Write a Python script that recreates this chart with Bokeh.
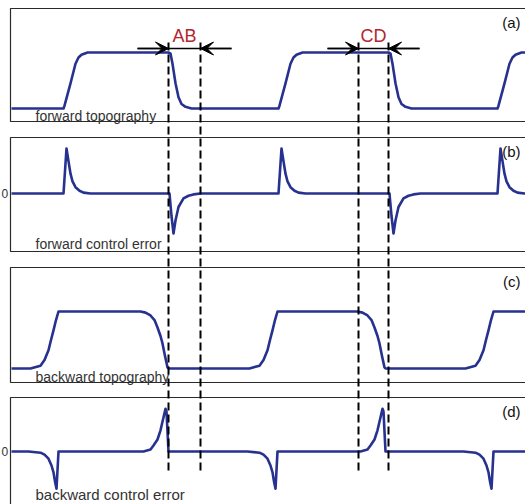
from bokeh.plotting import figure
from bokeh.models import Range1d, Arrow, VeeHead
from bokeh.core.properties import value
from bokeh.embed import file_html
from bokeh.resources import INLINE

# Scan positions of the sample edges (x, arbitrary position units)
FWD_RISE_AT = [63, 278, 497]
FWD_FALL_AT = [168, 388]
BWD_RISE_AT = [58, 277, 493]
BWD_FALL_AT = [168, 385]

# Marker positions A, B, C, D
MARK_NAMES = ["A", "B", "C", "D"]
MARK_X = [168, 200, 358, 388]

# Forward topography: step response at a rising / falling edge (offset, height)
FWD_RISE_DX = [0, 1, 7, 12, 15, 18, 24]
FWD_RISE_V = [0, 0.05, 0.45, 0.80, 0.91, 0.96, 1.0]
FWD_FALL_DX = [0, 2, 4, 7, 10, 13, 17, 23]
FWD_FALL_V = [1.0, 0.98, 0.80, 0.45, 0.20, 0.08, 0.03, 0]

# Forward control error spikes (offset, error)
FWD_ERR_POS_DX = [0, 3, 5, 7, 9, 12, 16, 20, 27]
FWD_ERR_POS_V = [0, 1.0, 0.72, 0.44, 0.27, 0.14, 0.06, 0.02, 0]
FWD_ERR_NEG_DX = [0, 1, 3, 5, 7, 10, 15, 20, 25, 32]
FWD_ERR_NEG_V = [0, 0, -0.5, -0.89, -0.6, -0.3, -0.11, -0.05, -0.02, 0]

# Backward topography: edges approached from the other side
BWD_RISE_DX = [-28, -18, -14, -10, -7.5, -5, -2.5, 0]
BWD_RISE_V = [0, 0.05, 0.15, 0.32, 0.50, 0.67, 0.85, 1.0]
BWD_FALL_DX = [-28, -23, -18, -14, -11, -8, -6, -3.5, -1, 0]
BWD_FALL_V = [1.0, 0.98, 0.93, 0.85, 0.72, 0.57, 0.44, 0.22, 0.02, 0]

# Backward control error spikes
BWD_ERR_NEG_DX = [-30, -18, -14, -10, -7, -5, -3.5, -2, 0]
BWD_ERR_NEG_V = [0, -0.03, -0.08, -0.18, -0.35, -0.52, -0.75, -0.93, 0]
BWD_ERR_POS_DX = [-25, -18, -15, -11, -8, -5.5, -3, -2, 0]
BWD_ERR_POS_V = [0, 0.05, 0.15, 0.30, 0.53, 0.80, 1.07, 1.0, 0]

PANEL_TITLES = ["(a)", "(b)", "(c)", "(d)"]
PANEL_NAMES = ["forward topography", "forward control error",
               "backward topography", "backward control error"]

X_START, X_END = 11, 530

# Panel geometry in screen units (top, bottom, zero level, units per 1.0)
PANELS = [
    dict(top=8, bottom=121, base=108, amp=56, label_y=115, label_size="14px"),
    dict(top=137, bottom=251, base=193, amp=45, label_y=243, label_size="14px"),
    dict(top=267, bottom=382, base=368, amp=57, label_y=376, label_size="14px"),
    dict(top=397, bottom=530, base=451, amp=40, label_y=494, label_size="15px"),
]

LINE = "#27318f"
FONT = "Liberation Sans"


def build(events, start_level):
    """Chain edge profiles into one trace: events = [(position, dx, v), ...]."""
    xs, ys = [X_START], [start_level]
    for pos, dxs, vs in sorted(events, key=lambda e: e[0]):
        xs.extend(pos + d for d in dxs)
        ys.extend(vs)
    xs.append(X_END)
    ys.append(ys[-1])
    return xs, ys


fwd_topo = build([(x, FWD_RISE_DX, FWD_RISE_V) for x in FWD_RISE_AT] +
                 [(x, FWD_FALL_DX, FWD_FALL_V) for x in FWD_FALL_AT], 0)
fwd_err = build([(x, FWD_ERR_POS_DX, FWD_ERR_POS_V) for x in FWD_RISE_AT] +
                [(x, FWD_ERR_NEG_DX, FWD_ERR_NEG_V) for x in FWD_FALL_AT], 0)
bwd_topo = build([(x, BWD_RISE_DX, BWD_RISE_V) for x in BWD_RISE_AT] +
                 [(x, BWD_FALL_DX, BWD_FALL_V) for x in BWD_FALL_AT], 0)
bwd_err = build([(x, BWD_ERR_NEG_DX, BWD_ERR_NEG_V) for x in BWD_RISE_AT] +
                [(x, BWD_ERR_POS_DX, BWD_ERR_POS_V) for x in BWD_FALL_AT], 0)
traces = [fwd_topo, fwd_err, bwd_topo, bwd_err]

p = figure(width=525, height=504, x_range=Range1d(0, 525), y_range=Range1d(504, 0),
           x_axis_type=None, y_axis_type=None, output_backend="svg",
           toolbar_location=None, min_border=0)
p.grid.visible = False
p.outline_line_color = None
p.background_fill_color = "white"

for i, (panel, (xs, vs)) in enumerate(zip(PANELS, traces)):
    p.quad(left=10, right=540, top=panel["top"], bottom=panel["bottom"],
           fill_color=None, line_color="#2a2a2a", line_width=1.2)
    ys = [panel["base"] - v * panel["amp"] for v in vs]
    p.line(xs, ys, line_color=LINE, line_width=2.6, line_join="round")
    p.text(x=[520], y=[panel["top"] + 14], text=[PANEL_TITLES[i]],
           text_align="right", text_baseline="middle",
           text_font=value(FONT), text_font_size="15px", text_color="#111111")
    p.text(x=[35], y=[panel["label_y"]], text=[PANEL_NAMES[i]],
           text_align="left", text_baseline="middle",
           text_font=value(FONT), text_font_size=panel["label_size"],
           text_color="#333333")
    if i in (1, 3):
        p.text(x=[1], y=[panel["base"]], text=["0"], text_align="left",
               text_baseline="middle", text_font=value(FONT),
               text_font_size="12px", text_color="#333333")

# Dashed markers through all panels
p.segment(x0=MARK_X, y0=[42] * 4, x1=MARK_X, y1=[470] * 4,
          line_color="black", line_width=2, line_dash="8 4")

# AB and CD width indicators
for a, b, label in [(MARK_X[0], MARK_X[1], "AB"), (MARK_X[2], MARK_X[3], "CD")]:
    y_arrow = 48
    p.segment(x0=[a - 31], y0=[y_arrow], x1=[b + 31], y1=[y_arrow],
              line_color="black", line_width=1.3)
    p.add_layout(Arrow(x_start=a - 31, y_start=y_arrow, x_end=a, y_end=y_arrow,
                       line_color="black", line_width=1.3,
                       end=VeeHead(size=13, fill_color="black", line_color="black")))
    p.add_layout(Arrow(x_start=b + 31, y_start=y_arrow, x_end=b, y_end=y_arrow,
                       line_color="black", line_width=1.3,
                       end=VeeHead(size=13, fill_color="black", line_color="black")))
    p.text(x=[(a + b) / 2], y=[35], text=[label], text_align="center",
           text_baseline="middle", text_font=value(FONT),
           text_font_size="18px", text_color="#b3242f")

open("out.html", "w").write(file_html(p, INLINE))
